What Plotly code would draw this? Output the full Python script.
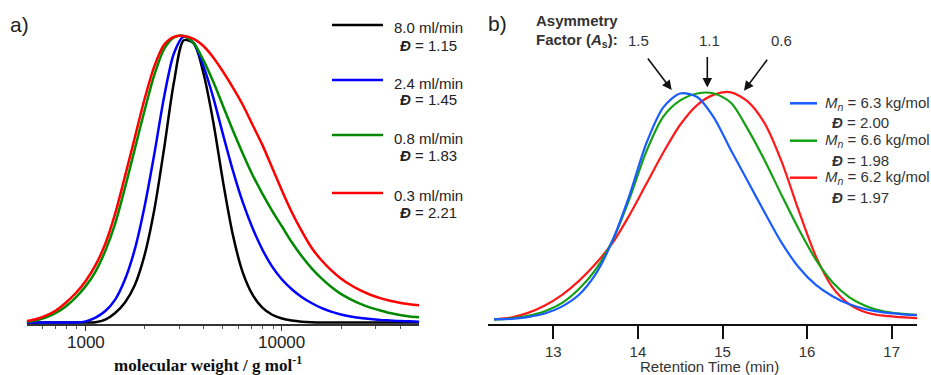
import math
import plotly.graph_objects as go

# ---------------- data: panel a (molecular weight distributions) ----------------
# molecular weight sample points (g/mol), evenly spaced on the log axis
mw = [501, 562, 631, 708, 794, 891, 1000, 1122, 1259, 1413, 1585, 1778, 1995, 2239,
      2512, 2818, 3162, 3548, 3981, 4467, 5012, 5623, 6310, 7079, 7943, 8913, 10000,
      11220, 12589, 14125, 15849, 17783, 19953, 22387, 25119, 28184, 31623, 35481,
      39811, 44668, 50119]
a_black = [0, 0, 0, 0, 0, 0, 0, 0.001, 0.01, 0.033, 0.07, 0.13, 0.235, 0.395,
           0.61, 0.84, 0.985, 0.975, 0.87, 0.70, 0.49, 0.305, 0.175, 0.097, 0.052, 0.027, 0.014,
           0.007, 0.003, 0.001, 0, 0, 0, 0, 0, 0, 0, 0, 0, 0, 0]
a_blue = [0, 0, 0, 0, 0, 0, 0.004, 0.017, 0.04, 0.08, 0.15, 0.255, 0.405, 0.59,
          0.79, 0.94, 0.998, 0.975, 0.895, 0.785, 0.655, 0.53, 0.42, 0.33, 0.255, 0.195, 0.15,
          0.116, 0.089, 0.068, 0.051, 0.038, 0.028, 0.021, 0.016, 0.012, 0.009, 0.007,
          0.005, 0.004, 0.003]
a_green = [0.003, 0.008, 0.018, 0.034, 0.057, 0.088, 0.127, 0.178, 0.25, 0.345, 0.47, 0.605,
           0.74, 0.865, 0.955, 0.995, 1.0, 0.975, 0.915, 0.84, 0.755, 0.67, 0.59, 0.515,
           0.45, 0.39, 0.335, 0.28, 0.232, 0.19, 0.155, 0.125, 0.1, 0.081, 0.065, 0.052,
           0.042, 0.033, 0.026, 0.021, 0.018]
a_red = [0.005, 0.012, 0.025, 0.043, 0.07, 0.103, 0.145, 0.2, 0.275, 0.38, 0.51, 0.645,
         0.78, 0.895, 0.97, 0.997, 1.0, 0.99, 0.965, 0.925, 0.875, 0.82, 0.76, 0.69,
         0.62, 0.54, 0.46, 0.385, 0.32, 0.262, 0.218, 0.183, 0.154, 0.131, 0.112, 0.097,
         0.085, 0.076, 0.069, 0.064, 0.06]
a_names = ["8.0 ml/min", "2.4 ml/min", "0.8 ml/min", "0.3 ml/min"]
a_disp = ["1.15", "1.45", "1.83", "2.21"]
a_xtitle = "<b>molecular weight / g mol<sup>-1</sup></b>"

# ---------------- data: panel b (retention time traces) ----------------
rt = [12.3, 12.5, 12.7, 12.9, 13.1, 13.3, 13.5, 13.7, 13.9, 14.1, 14.3, 14.5, 14.7,
      14.9, 15.1, 15.3, 15.5, 15.7, 15.9, 16.1, 16.3, 16.5, 16.7, 16.9, 17.1, 17.3]
b_blue = [0.02, 0.022, 0.03, 0.045, 0.075, 0.125, 0.215, 0.36, 0.555, 0.78, 0.935, 0.995, 0.98,
          0.89, 0.75, 0.615, 0.48, 0.35, 0.245, 0.17, 0.12, 0.085, 0.063, 0.05, 0.043, 0.038]
b_green = [0.02, 0.024, 0.035, 0.055, 0.09, 0.15, 0.235, 0.36, 0.54, 0.745, 0.895, 0.965, 0.995,
           0.995, 0.955, 0.84, 0.705, 0.555, 0.41, 0.28, 0.18, 0.115, 0.077, 0.055, 0.045, 0.039]
b_red = [0.02, 0.028, 0.048, 0.08, 0.125, 0.185, 0.26, 0.35, 0.47, 0.605, 0.74, 0.86, 0.945,
         0.99, 1.0, 0.96, 0.865, 0.70, 0.49, 0.295, 0.158, 0.085, 0.05, 0.036, 0.03, 0.025]
b_mn = ["6.3", "6.6", "6.2"]
b_disp = ["2.00", "1.98", "1.97"]
asym_labels = ["1.5", "1.1", "0.6"]
b_xtitle = "Retention Time (min)"

a_ticks = [1000, 10000]
a_minor = [600, 700, 800, 900, 2000, 3000, 4000, 5000, 6000, 7000, 8000, 9000,
           20000, 30000, 40000]
b_ticks = [13, 14, 15, 16, 17]

# ---------------- styling ----------------
W, H = 931, 375
SANS = "Liberation Sans, Arial, sans-serif"
SERIF = "Liberation Serif, Times New Roman, serif"
TXT = "#222222"
a_colors = ["#000000", "#0000ff", "#008a00", "#ff0000"]
b_colors = ["#1a5cff", "#13a013", "#ff1a1a"]


def px(x):
    return x / W


def py(y):
    return 1 - y / H


fig = go.Figure()
for ys, c in zip([a_black, a_blue, a_green, a_red], a_colors):
    fig.add_trace(go.Scatter(x=mw, y=ys, mode="lines", xaxis="x", yaxis="y",
                             line=dict(color=c, width=2.5, shape="spline", smoothing=0.8),
                             showlegend=False, hoverinfo="skip"))
for ys, c in zip([b_red, b_green, b_blue], [b_colors[2], b_colors[1], b_colors[0]]):
    fig.add_trace(go.Scatter(x=rt, y=ys, mode="lines", xaxis="x2", yaxis="y2",
                             line=dict(color=c, width=2.2, shape="spline", smoothing=0.8),
                             showlegend=False, hoverinfo="skip"))

ydom = [py(324), py(30)]
fig.update_layout(
    width=W, height=H,
    margin=dict(l=0, r=0, t=0, b=0),
    paper_bgcolor="white", plot_bgcolor="white",
    font=dict(family=SANS, color=TXT),
    xaxis=dict(
        type="log", domain=[px(26.6), px(419.2)],
        range=[2.699, 4.699],
        anchor="y", showgrid=False, zeroline=False,
        showline=True, linecolor="#333333", linewidth=1.5,
        ticks="outside", ticklen=5, tickwidth=1, tickcolor="#333333",
        tickmode="array", tickvals=a_ticks, showticklabels=False,
        minor=dict(ticks="outside", ticklen=3, tickwidth=1, tickcolor="#555555",
                   tickmode="array", tickvals=a_minor, showgrid=False),
        automargin=False,
    ),
    yaxis=dict(domain=ydom, range=[-0.0052, 1.0209], visible=False, anchor="x"),
    xaxis2=dict(
        domain=[px(488), px(917)], range=[12.228, 17.299], anchor="y2",
        showgrid=False, zeroline=False,
        showline=True, linecolor="#111111", linewidth=2,
        ticks="outside", ticklen=13, tickwidth=2, tickcolor="#111111",
        tickmode="array", tickvals=b_ticks,
        tickfont=dict(size=15, family=SANS, color="#333333"), ticklabelstandoff=0,
        automargin=False,
    ),
    yaxis2=dict(domain=ydom, range=[0, 1.2689], visible=False, anchor="x2"),
)

shapes = []
ann = []

# panel a tick labels, placed on the log axis (annotation x is log10 on log axes)
for v in a_ticks:
    ann.append(dict(text=str(v), x=math.log10(v), xref="x", y=py(342.5), xanchor="center",
                    yanchor="middle", font=dict(size=17, color=TXT)))
# axis titles
ann.append(dict(text=a_xtitle, x=px(208), y=py(364), xanchor="center", yanchor="middle",
                font=dict(family=SERIF, size=17, color="#111111")))
ann.append(dict(text=b_xtitle, x=px(709), y=py(366.5), xanchor="center", yanchor="middle",
                font=dict(size=15, color="#333333")))

# panel labels
ann.append(dict(text="a)", x=px(8), y=py(25), xanchor="left", yanchor="middle",
                font=dict(size=21, color=TXT)))
ann.append(dict(text="b)", x=px(486), y=py(23), xanchor="left", yanchor="middle",
                font=dict(size=21, color=TXT)))

# legend panel a
a_line_y = [25, 80, 135, 193]
for i in range(4):
    ly = a_line_y[i]
    shapes.append(dict(type="line", xref="paper", yref="paper",
                       x0=px(332), x1=px(383), y0=py(ly), y1=py(ly),
                       line=dict(color=a_colors[i], width=2.5)))
    ann.append(dict(text=a_names[i], x=px(428), y=py(ly + 3), xanchor="center",
                    yanchor="middle", font=dict(size=15, color=TXT)))
    ann.append(dict(text="<b><i>Đ</i></b> = " + a_disp[i], x=px(428), y=py(ly + 20),
                    xanchor="center", yanchor="middle", font=dict(size=15, color=TXT)))

# legend panel b
b_line_y = [103.3, 140.7, 177.7]
for i in range(3):
    ly = b_line_y[i]
    shapes.append(dict(type="line", xref="paper", yref="paper",
                       x0=px(790), x1=px(817), y0=py(ly), y1=py(ly),
                       line=dict(color=b_colors[i], width=2.5)))
    ann.append(dict(text="<i>M<sub>n</sub></i> = " + b_mn[i] + " kg/mol", x=px(823),
                    y=py(ly), xanchor="left", yanchor="middle",
                    font=dict(size=15, color="#333333")))
    ann.append(dict(text="<b><i>Đ</i></b> = " + b_disp[i], x=px(830), y=py(ly + 19.5),
                    xanchor="left", yanchor="middle", font=dict(size=15, color="#333333")))

# asymmetry header
ann.append(dict(text="<b>Asymmetry</b>", x=px(534), y=py(20), xanchor="left",
                yanchor="middle", font=dict(size=15, color="#333333")))
ann.append(dict(text="<b>Factor (<i>A</i><sub>s</sub>):</b>", x=px(534), y=py(40),
                xanchor="left", yanchor="middle", font=dict(size=15, color="#333333")))
for lab, cx in zip(asym_labels, [638, 709, 781]):
    ann.append(dict(text=lab, x=px(cx), y=py(40), xanchor="center", yanchor="middle",
                    font=dict(size=15, color="#333333")))

# arrows (head position, tail offset in px)
for hx, hy, axo, ayo in [(671.7, 90, -25, -33), (707.3, 87.5, 0, -32), (744, 90.7, 24.3, -32.4)]:
    ann.append(dict(text="", x=px(hx), y=py(hy), showarrow=True, ax=axo, ay=ayo,
                    arrowhead=2, arrowsize=1.2, arrowwidth=1.6, arrowcolor="#111111",
                    standoff=0, startstandoff=0))

for a in ann:
    a.setdefault("xref", "paper")
    a.setdefault("yref", "paper")
    a.setdefault("showarrow", False)

fig.update_layout(shapes=shapes, annotations=ann)
fig.write_html("out.html",
               config={"displayModeBar": False},
               post_script="document.body.style.margin='0px';"
                           "document.body.style.overflow='hidden';")
